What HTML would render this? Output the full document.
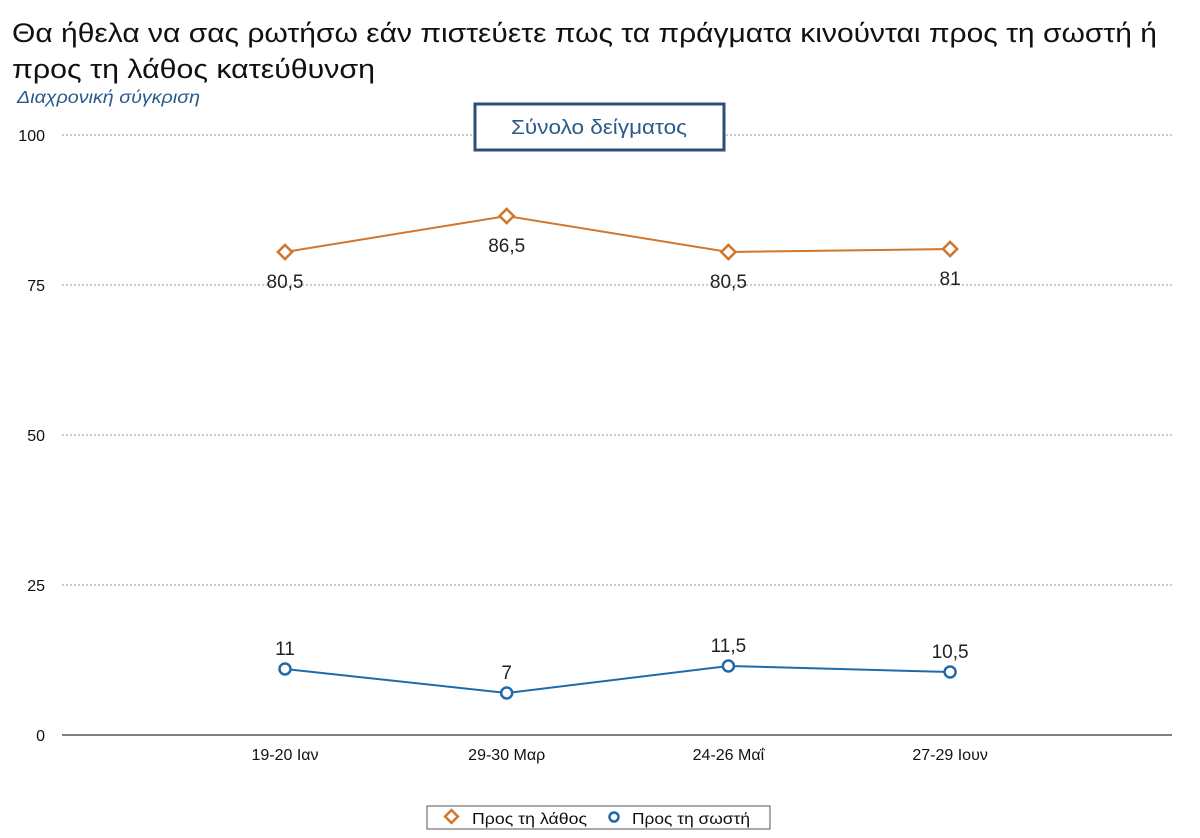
<!DOCTYPE html>
<html><head><meta charset="utf-8"><style>
body{margin:0;background:#fff;}
svg{display:block;font-family:"Liberation Sans","DejaVu Sans",sans-serif;}
</style></head><body>
<svg id="chart" width="1200" height="838">
<text x="12" y="42" font-size="27" fill="#111" textLength="1145" lengthAdjust="spacingAndGlyphs">Θα ήθελα να σας ρωτήσω εάν πιστεύετε πως τα πράγματα κινούνται προς τη σωστή ή</text>
<text x="12" y="78" font-size="27" fill="#111" textLength="363" lengthAdjust="spacingAndGlyphs">προς τη λάθος κατεύθυνση</text>
<text x="17" y="103" font-size="18" font-style="italic" fill="#2a5a8c" textLength="183" lengthAdjust="spacingAndGlyphs">Διαχρονική σύγκριση</text>
<g id="grid"></g>
<line x1="62" y1="735" x2="1172" y2="735" stroke="#000" stroke-width="1"/>
<g id="series"></g>
<g>
<rect x="475" y="104" width="249" height="46" fill="#fff" stroke="#2c4f7a" stroke-width="3"/>
<text x="511" y="134" font-size="20" fill="#2c5a8a" textLength="176" lengthAdjust="spacingAndGlyphs">Σύνολο δείγματος</text>
</g>
<g>
<rect x="427" y="806" width="343" height="23" fill="#fff" stroke="#555" stroke-width="1"/>
<rect x="447" y="812" width="9" height="9" fill="#fff" stroke="#d2762a" stroke-width="2.5" transform="rotate(45 451.5 816.5)"/>
<text x="472" y="824" font-size="16" fill="#111" textLength="115" lengthAdjust="spacingAndGlyphs">Προς τη λάθος</text>
<circle cx="614" cy="817" r="4.5" fill="#fff" stroke="#1f6aa8" stroke-width="2.5"/>
<text x="632" y="824" font-size="16" fill="#111" textLength="118" lengthAdjust="spacingAndGlyphs">Προς τη σωστή</text>
</g>
</svg>
<script>
const categories=["19-20 Ιαν","29-30 Μαρ","24-26 Μαΐ","27-29 Ιουν"];
const wrongValues=[80.5,86.5,80.5,81];
const rightValues=[11,7,11.5,10.5];
const yTicks=[0,25,50,75,100];
const wrongLabels=["80,5","86,5","80,5","81"];
const rightLabels=["11","7","11,5","10,5"];
const NS="http://www.w3.org/2000/svg";
const y=v=>735-v*6;
const x=i=>285+i*221.7;
function mk(tag,attrs,parent){const e=document.createElementNS(NS,tag);for(const k in attrs)e.setAttribute(k,attrs[k]);parent.appendChild(e);return e;}
const grid=document.getElementById('grid');
yTicks.forEach(t=>{
  if(t>0){const l=mk('line',{x1:62,x2:1172,y1:y(t),y2:y(t),stroke:'#999','stroke-dasharray':'2,2'},grid);
  
  }
  const tx=mk('text',{x:45,y:y(t)+6,'font-size':16,'text-anchor':'end',fill:'#111'},grid);
  tx.textContent=t;
  
  
});
categories.forEach((c,i)=>{
  const tx=mk('text',{x:x(i),y:760,'font-size':16,'text-anchor':'middle',fill:'#111'},grid);
  tx.textContent=c;
  
  
});
const s=document.getElementById('series');
const pw=mk('polyline',{points:wrongValues.map((v,i)=>x(i)+','+y(v)).join(' '),fill:'none',stroke:'#d2762a','stroke-width':2},s);


const pr=mk('polyline',{points:rightValues.map((v,i)=>x(i)+','+y(v)).join(' '),fill:'none',stroke:'#1f6aa8','stroke-width':2},s);


wrongValues.forEach((v,i)=>{
  const m=mk('rect',{x:x(i)-5,y:y(v)-5,width:10,height:10,fill:'#fff',stroke:'#d2762a','stroke-width':2.5,transform:`rotate(45 ${x(i)} ${y(v)})`},s);
  
  
  const t=mk('text',{x:x(i),y:y(v)+36,'font-size':19,'text-anchor':'middle',fill:'#222'},s);
  t.textContent=wrongLabels[i];
  
  
});
rightValues.forEach((v,i)=>{
  const m=mk('circle',{cx:x(i),cy:y(v),r:5.5,fill:'#fff',stroke:'#1f6aa8','stroke-width':2.5},s);
  
  
  const t=mk('text',{x:x(i),y:y(v)-14,'font-size':19,'text-anchor':'middle',fill:'#222'},s);
  t.textContent=rightLabels[i];
  
  
});
</script>
</body></html>
